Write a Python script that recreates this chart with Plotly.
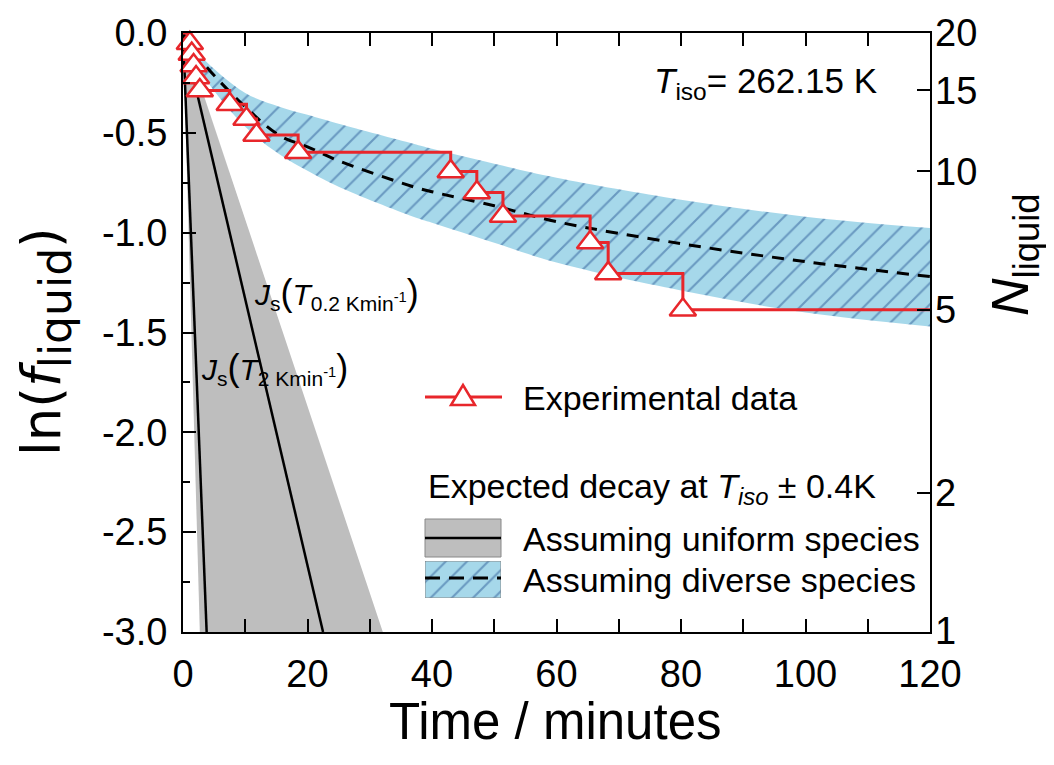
import numpy as np
import plotly.graph_objects as go

# experimental data: time (min) and number of liquid droplets
t_exp = [0, 1.1, 1.4, 1.7, 2.1, 2.7, 7.5, 10.2, 11.8, 18.5, 43.0, 47.2, 51.4, 65.4, 68.3, 80.3, 120.0]
n_exp = [20, 19, 18, 17, 16, 15, 14, 13, 12, 11, 10, 9, 8, 7, 6, 5, 5]
n_total = 20

# uniform species (straight decays), gray envelope
t_unif_env = [0, 2.7, 32.1, 0]
lnf_unif_env = [0, -3.0, -3.0, 0]
t_js_2k = [0, 3.8]
t_js_02k = [0, 22.5]
lnf_js = [0, -3.0]

# diverse species band
t_div = [0, 3, 10, 15.6, 20, 25, 37, 40, 50, 60, 80, 100, 120]
lnf_div_upper = [0, -0.12, -0.30, -0.37, -0.41, -0.455, -0.555, -0.58, -0.655, -0.725, -0.835, -0.92, -0.977]
lnf_div_lower = [0, -0.20, -0.47, -0.61, -0.69, -0.77, -0.92, -0.95, -1.05, -1.15, -1.29, -1.40, -1.47]
lnf_div_mid = [0, -0.14, -0.37, -0.515, -0.57, -0.64, -0.77, -0.795, -0.865, -0.945, -1.055, -1.145, -1.22]

x_ticks = [0, 20, 40, 60, 80, 100, 120]
y_ticks = [0, -0.5, -1.0, -1.5, -2.0, -2.5, -3.0]
y_labels = ["0.0", "-0.5", "-1.0", "-1.5", "-2.0", "-2.5", "-3.0"]
n_ticks = [1, 2, 5, 10, 15, 20]

lnf_exp = np.log(np.array(n_exp) / n_total)

RED = "#e8262b"
BLUE_BG = "#a6d8ea"
BLUE_FG = "#2d5b98"
GRAY = "#bebebe"
FONT = "Liberation Sans, Arial, sans-serif"

W, H = 1054, 765
OFF = 8  # page body margin
# plot area in screen pixels
L, R, T, B = 183, 930, 33, 632
def px(x):
    return (x - L) / (R - L)
def py(y):
    return (B - y) / (B - T)

fig = go.Figure()

# gray envelope and black lines
fig.add_trace(go.Scatter(x=t_unif_env, y=lnf_unif_env, fill="toself", fillcolor=GRAY,
                         mode="lines", line=dict(width=0), hoverinfo="skip"))
fig.add_trace(go.Scatter(x=t_js_2k, y=lnf_js, mode="lines", line=dict(color="black", width=2.5)))
fig.add_trace(go.Scatter(x=t_js_02k, y=lnf_js, mode="lines", line=dict(color="black", width=2.5)))

# hatched band
hatch = dict(shape="/", size=15, solidity=0.14, fgcolor=BLUE_FG, bgcolor=BLUE_BG)
fig.add_trace(go.Scatter(x=t_div, y=lnf_div_lower, mode="lines", line_shape="spline",
                         line=dict(width=0), hoverinfo="skip"))
fig.add_trace(go.Scatter(x=t_div, y=lnf_div_upper, mode="lines", line_shape="spline",
                         fill="tonexty", fillcolor=BLUE_BG, fillpattern=hatch,
                         line=dict(width=0), hoverinfo="skip"))
fig.add_trace(go.Scatter(x=t_div, y=lnf_div_mid, mode="lines", line_shape="spline",
                         line=dict(color="black", width=3, dash="12px,9px")))

# experimental step curve (markers on the N axis, same positions)
fig.add_trace(go.Scatter(x=t_exp, y=lnf_exp, mode="lines", line_shape="hv",
                         line=dict(color=RED, width=3)))
fig.add_trace(go.Scatter(x=t_exp[1:-1], y=n_exp[1:-1], yaxis="y2", mode="markers",
                         cliponaxis=False,
                         marker=dict(symbol="triangle-up", size=23, color="white",
                                     line=dict(color=RED, width=2.5))))

# legend swatch for hatched band (small helper axes)
fig.add_trace(go.Scatter(x=[0, 1, 1, 0, 0], y=[0, 0, 1, 1, 0], xaxis="x2", yaxis="y3",
                         fill="toself", mode="lines", line=dict(color="#888", width=1),
                         fillcolor=BLUE_BG, fillpattern=hatch, hoverinfo="skip"))

shapes = [
    # legend: gray box with black line
    dict(type="rect", xref="paper", yref="paper", x0=px(425), x1=px(501), y0=py(557), y1=py(519),
         fillcolor=GRAY, line=dict(color="#888", width=1)),
    dict(type="line", xref="paper", yref="paper", x0=px(425), x1=px(501), y0=py(538), y1=py(538),
         line=dict(color="black", width=2.5)),
    dict(type="line", xref="paper", yref="paper", x0=px(425), x1=px(501), y0=py(578), y1=py(578),
         line=dict(color="black", width=3, dash="15px,9px")),
    # legend: red line with triangle
    dict(type="line", xref="paper", yref="paper", x0=px(425), x1=px(502), y0=py(397), y1=py(397),
         line=dict(color=RED, width=3)),
    dict(type="path", xref="paper", yref="paper",
         path=f"M {px(451)},{py(405)} L {px(475)},{py(405)} L {px(463)},{py(385)} Z",
         fillcolor="white", line=dict(color=RED, width=2.5)),
]

def ann(x, y, text, size, xanchor="left", angle=0, family=FONT):
    return dict(x=px(x), y=py(y), xref="paper", yref="paper", text=text, showarrow=False,
                xanchor=xanchor, yanchor="middle", textangle=angle,
                font=dict(family=family, size=size, color="black"))

BIG = "<span style='font-size:36px'>"
annotations = [
    ann(652, 83, "<i>T</i><sub>iso</sub>= 262.15 K", 35),
    ann(252, 293, f"<i>J</i><sub>s</sub>{BIG}(</span><i>T</i><sub>0.2 Kmin<sup>-1</sup></sub>{BIG})</span>", 30),
    ann(199, 368, f"<i>J</i><sub>s</sub>{BIG}(</span><i>T</i><sub>2 Kmin<sup>-1</sup></sub>{BIG})</span>", 30),
    ann(521, 398, "Experimental data", 34),
    ann(426, 488, "Expected decay at <i>T<sub>iso</sub></i> ± 0.4K", 34),
    ann(521, 539, "Assuming uniform species", 34),
    ann(521, 580, "Assuming diverse species", 34),
    ann(555, 721, "Time / minutes", 51, xanchor="center"),
    ann(46, 342, "ln(<i>f</i><sub><span style='font-size:44px'>liquid</span></sub>)", 53,
        xanchor="center", angle=-90, family="DejaVu Sans, sans-serif"),
    ann(1014, 255, "<i>N</i><sub>liquid</sub>", 52, xanchor="center", angle=-90),
]

tick_common = dict(ticks="inside", tickwidth=2, tickcolor="black", showgrid=False,
                   zeroline=False, tickfont=dict(family=FONT, size=38, color="black"))

fig.update_layout(
    width=W, height=H,
    margin=dict(l=L - OFF, r=W - R + OFF, t=T - OFF, b=H - B + OFF, autoexpand=False),
    plot_bgcolor="white", paper_bgcolor="white",
    showlegend=False,
    font=dict(family=FONT, color="black"),
    xaxis=dict(range=[0, 120], tickvals=x_ticks, ticklen=13, showline=True, linewidth=2,
               linecolor="black", mirror="allticks", ticklabelstandoff=7,
               minor=dict(dtick=10, tick0=0, ticks="inside", ticklen=7, tickwidth=2,
                          tickcolor="black"),
               **tick_common),
    yaxis=dict(range=[-3, 0], tickvals=y_ticks, ticktext=y_labels, ticklen=13, showline=True,
               linewidth=2, linecolor="black", mirror=True, ticklabelstandoff=6,
               minor=dict(dtick=0.25, tick0=0, ticks="inside", ticklen=7, tickwidth=2,
                          tickcolor="black"),
               **tick_common),
    yaxis2=dict(overlaying="y", side="right", type="log",
                range=[np.log10(n_total * np.exp(-3)), np.log10(n_total)],
                tickvals=n_ticks, ticktext=[str(v) for v in n_ticks], ticklen=13,
                showline=False, ticklabelstandoff=4, **tick_common),
    xaxis2=dict(domain=[px(425), px(501)], range=[0, 1], visible=False, anchor="y3",
                fixedrange=True),
    yaxis3=dict(domain=[py(598), py(561)], range=[0, 1], visible=False, anchor="x2",
                fixedrange=True),
    shapes=shapes,
    annotations=annotations,
)

fig.write_html("out.html")
